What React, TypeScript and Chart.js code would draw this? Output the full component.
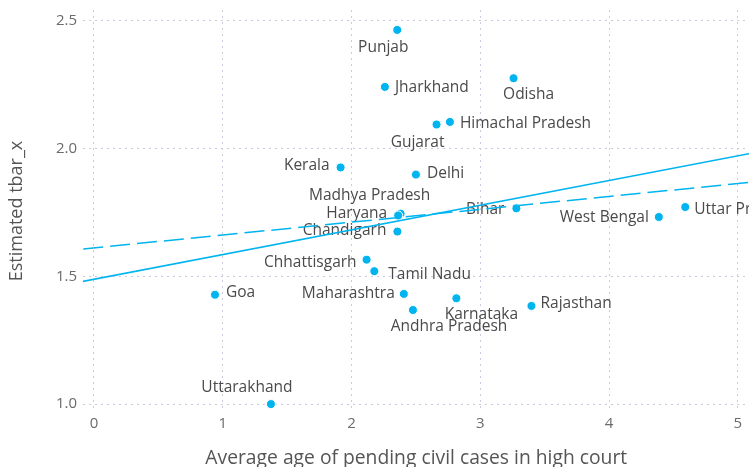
import React, { useEffect, useRef } from "react";
import { Chart, registerables } from "chart.js";

Chart.register(...registerables);

const states = [
  "Punjab", "Jharkhand", "Odisha", "Gujarat", "Himachal Pradesh", "Kerala", "Delhi",
  "Madhya Pradesh", "Haryana", "Chandigarh", "Chhattisgarh", "Tamil Nadu", "Goa",
  "Maharashtra", "Karnataka", "Andhra Pradesh", "Rajasthan", "Bihar", "West Bengal",
  "Uttar Pradesh", "Uttarakhand",
];
const avgAge = [
  2.355, 2.259, 3.258, 2.66, 2.764, 1.915, 2.5,
  2.381, 2.362, 2.356, 2.117, 2.177, 0.94,
  2.406, 2.814, 2.477, 3.397, 3.28, 4.386,
  4.591, 1.374,
];
const tbarX = [
  2.464, 2.241, 2.275, 2.094, 2.104, 1.926, 1.898,
  1.745, 1.738, 1.675, 1.565, 1.52, 1.428,
  1.431, 1.414, 1.368, 1.384, 1.766, 1.732,
  1.771, 1.0,
];
// label placement relative to each point (text align, pixel offsets)
const labelAlign = [
  "center", "left", "center", "center", "left", "right", "left",
  "center", "right", "right", "right", "left", "left",
  "right", "center", "center", "left", "right", "right",
  "left", "center",
];
const labelDx = [
  -14, 10, 15, -19, 10, -11, 11,
  -31, -11, -11, -10, 14, 11,
  -9, 25, 36, 9, -12, -10,
  9, -24,
];
const labelDy = [
  18, 1, 16, 18, 2, -2, -1,
  -18, -2, -1, 3, 3, -2,
  0, 16, 17, -2, 1, 1,
  3, -16,
];

const fitX = [-0.5, 5.5];
const solidFitY = [1.44, 2.02];
const dashedFitY = [1.586, 1.888];

const xTicks = [0, 1, 2, 3, 4, 5];
const yTicks = [1.0, 1.5, 2.0, 2.5];

const BLUE = "#00b4f0";
const FONT = "'Open Sans', 'Noto Sans', sans-serif";

export default function App() {
  const ref = useRef<HTMLCanvasElement | null>(null);

  useEffect(() => {
    const canvas = ref.current;
    if (!canvas) return;

    const labelPlugin = {
      id: "pointLabels",
      beforeDatasetsDraw(chart: any) {
        const meta = chart.getDatasetMeta(0);
        const ctx = chart.ctx;
        const a = chart.chartArea;
        ctx.save();
        ctx.beginPath();
        ctx.rect(a.left, a.top, a.right - a.left, a.bottom - a.top);
        ctx.clip();
        ctx.font = `15.5px ${FONT}`;
        ctx.fillStyle = "#4a4a4a";
        ctx.textBaseline = "middle";
        meta.data.forEach((el: any, i: number) => {
          ctx.textAlign = labelAlign[i];
          ctx.fillText(states[i], el.x + labelDx[i], el.y + labelDy[i]);
        });
        ctx.restore();
      },
    };

    const gridColor = "#cbcbe0";

    const chart = new Chart(canvas, {
      type: "scatter",
      data: {
        datasets: [
          {
            data: avgAge.map((x, i) => ({ x, y: tbarX[i] })),
            backgroundColor: BLUE,
            borderColor: "#ffffff",
            borderWidth: 1,
            pointRadius: 4.5,
            order: 3,
          },
          {
            type: "line",
            data: fitX.map((x, i) => ({ x, y: solidFitY[i] })),
            borderColor: BLUE,
            borderWidth: 1.5,
            pointRadius: 0,
            fill: false,
            order: 2,
          },
          {
            type: "line",
            data: fitX.map((x, i) => ({ x, y: dashedFitY[i] })),
            borderColor: BLUE,
            borderWidth: 1.5,
            borderDash: [20, 7],
            pointRadius: 0,
            fill: false,
            order: 1,
          },
        ],
      } as any,
      options: {
        animation: false,
        responsive: false,
        layout: { padding: { left: 0, right: 0, top: 10, bottom: 0 } },
        plugins: {
          legend: { display: false },
          tooltip: { enabled: false },
        },
        scales: {
          x: {
            type: "linear",
            min: -0.085,
            max: 5.09,
            afterFit: (s: any) => {
              s.height = 55;
              s.paddingLeft = 0;
              s.paddingRight = 0;
              s.paddingTop = 0;
              s.paddingBottom = 0;
            },
            afterBuildTicks: (s: any) => {
              s.ticks = xTicks.map((v) => ({ value: v }));
            },
            ticks: {
              font: { family: FONT, size: 15 },
              color: "#6b6b6b",
              padding: 3,
              callback: (v: any) => String(v),
            },
            grid: { color: gridColor, drawTicks: false, lineWidth: 1 },
            border: { display: false, dash: [2, 4] },
            title: {
              display: true,
              text: "Average age of pending civil cases in high court",
              font: { family: FONT, size: 19.3 },
              color: "#555555",
              padding: { top: 0, bottom: -3 },
            },
          },
          y: {
            type: "linear",
            min: 0.969,
            max: 2.542,
            afterFit: (s: any) => {
              s.width = 83;
              s.paddingLeft = 0;
              s.paddingRight = 0;
              s.paddingTop = 0;
              s.paddingBottom = 0;
            },
            afterBuildTicks: (s: any) => {
              s.ticks = yTicks.map((v) => ({ value: v }));
            },
            ticks: {
              font: { family: FONT, size: 15 },
              color: "#6b6b6b",
              padding: 6,
              callback: (v: any) => Number(v).toFixed(1),
            },
            grid: { color: gridColor, drawTicks: false, lineWidth: 1 },
            border: { display: false, dash: [2, 4] },
            title: {
              display: true,
              text: "Estimated tbar_x",
              font: { family: FONT, size: 18 },
              color: "#555555",
              padding: { top: 6, bottom: 0 },
            },
          },
        },
      } as any,
      plugins: [labelPlugin],
    });

    return () => chart.destroy();
  }, []);

  return (
    <div
      style={{
        position: "fixed",
        left: 0,
        top: 0,
        width: 749,
        height: 467,
        overflow: "hidden",
        background: "#ffffff",
      }}
    >
      <canvas ref={ref} width={755} height={467} style={{ display: "block" }} />
    </div>
  );
}
